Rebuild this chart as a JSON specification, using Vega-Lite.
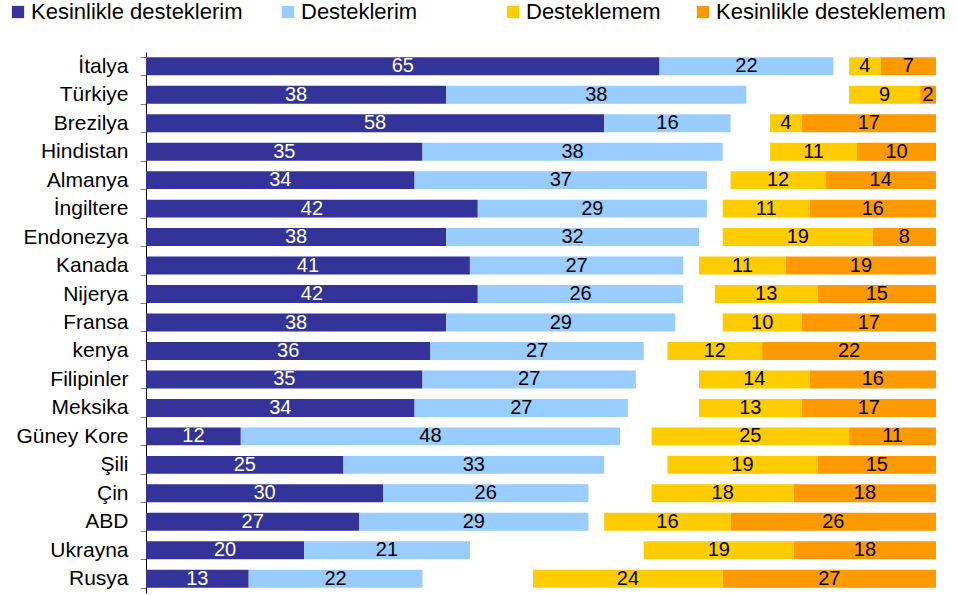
{
  "$schema": "https://vega.github.io/schema/vega-lite/v6.json",
  "width": 790,
  "height": 541,
  "autosize": {"type": "none"},
  "padding": {"left": 146, "top": 52, "right": 22, "bottom": 2},
  "background": "white",
  "config": {"view": {"stroke": null}, "font": "Liberation Sans", "text": {"font": "Liberation Sans"}},
  "data": {"values": [
    {"country": "İtalya", "cat": "Kesinlikle desteklerim", "value": 65},
    {"country": "İtalya", "cat": "Desteklerim", "value": 22},
    {"country": "İtalya", "cat": "Desteklemem", "value": 4},
    {"country": "İtalya", "cat": "Kesinlikle desteklemem", "value": 7},
    {"country": "Türkiye", "cat": "Kesinlikle desteklerim", "value": 38},
    {"country": "Türkiye", "cat": "Desteklerim", "value": 38},
    {"country": "Türkiye", "cat": "Desteklemem", "value": 9},
    {"country": "Türkiye", "cat": "Kesinlikle desteklemem", "value": 2},
    {"country": "Brezilya", "cat": "Kesinlikle desteklerim", "value": 58},
    {"country": "Brezilya", "cat": "Desteklerim", "value": 16},
    {"country": "Brezilya", "cat": "Desteklemem", "value": 4},
    {"country": "Brezilya", "cat": "Kesinlikle desteklemem", "value": 17},
    {"country": "Hindistan", "cat": "Kesinlikle desteklerim", "value": 35},
    {"country": "Hindistan", "cat": "Desteklerim", "value": 38},
    {"country": "Hindistan", "cat": "Desteklemem", "value": 11},
    {"country": "Hindistan", "cat": "Kesinlikle desteklemem", "value": 10},
    {"country": "Almanya", "cat": "Kesinlikle desteklerim", "value": 34},
    {"country": "Almanya", "cat": "Desteklerim", "value": 37},
    {"country": "Almanya", "cat": "Desteklemem", "value": 12},
    {"country": "Almanya", "cat": "Kesinlikle desteklemem", "value": 14},
    {"country": "İngiltere", "cat": "Kesinlikle desteklerim", "value": 42},
    {"country": "İngiltere", "cat": "Desteklerim", "value": 29},
    {"country": "İngiltere", "cat": "Desteklemem", "value": 11},
    {"country": "İngiltere", "cat": "Kesinlikle desteklemem", "value": 16},
    {"country": "Endonezya", "cat": "Kesinlikle desteklerim", "value": 38},
    {"country": "Endonezya", "cat": "Desteklerim", "value": 32},
    {"country": "Endonezya", "cat": "Desteklemem", "value": 19},
    {"country": "Endonezya", "cat": "Kesinlikle desteklemem", "value": 8},
    {"country": "Kanada", "cat": "Kesinlikle desteklerim", "value": 41},
    {"country": "Kanada", "cat": "Desteklerim", "value": 27},
    {"country": "Kanada", "cat": "Desteklemem", "value": 11},
    {"country": "Kanada", "cat": "Kesinlikle desteklemem", "value": 19},
    {"country": "Nijerya", "cat": "Kesinlikle desteklerim", "value": 42},
    {"country": "Nijerya", "cat": "Desteklerim", "value": 26},
    {"country": "Nijerya", "cat": "Desteklemem", "value": 13},
    {"country": "Nijerya", "cat": "Kesinlikle desteklemem", "value": 15},
    {"country": "Fransa", "cat": "Kesinlikle desteklerim", "value": 38},
    {"country": "Fransa", "cat": "Desteklerim", "value": 29},
    {"country": "Fransa", "cat": "Desteklemem", "value": 10},
    {"country": "Fransa", "cat": "Kesinlikle desteklemem", "value": 17},
    {"country": "kenya", "cat": "Kesinlikle desteklerim", "value": 36},
    {"country": "kenya", "cat": "Desteklerim", "value": 27},
    {"country": "kenya", "cat": "Desteklemem", "value": 12},
    {"country": "kenya", "cat": "Kesinlikle desteklemem", "value": 22},
    {"country": "Filipinler", "cat": "Kesinlikle desteklerim", "value": 35},
    {"country": "Filipinler", "cat": "Desteklerim", "value": 27},
    {"country": "Filipinler", "cat": "Desteklemem", "value": 14},
    {"country": "Filipinler", "cat": "Kesinlikle desteklemem", "value": 16},
    {"country": "Meksika", "cat": "Kesinlikle desteklerim", "value": 34},
    {"country": "Meksika", "cat": "Desteklerim", "value": 27},
    {"country": "Meksika", "cat": "Desteklemem", "value": 13},
    {"country": "Meksika", "cat": "Kesinlikle desteklemem", "value": 17},
    {"country": "Güney Kore", "cat": "Kesinlikle desteklerim", "value": 12},
    {"country": "Güney Kore", "cat": "Desteklerim", "value": 48},
    {"country": "Güney Kore", "cat": "Desteklemem", "value": 25},
    {"country": "Güney Kore", "cat": "Kesinlikle desteklemem", "value": 11},
    {"country": "Şili", "cat": "Kesinlikle desteklerim", "value": 25},
    {"country": "Şili", "cat": "Desteklerim", "value": 33},
    {"country": "Şili", "cat": "Desteklemem", "value": 19},
    {"country": "Şili", "cat": "Kesinlikle desteklemem", "value": 15},
    {"country": "Çin", "cat": "Kesinlikle desteklerim", "value": 30},
    {"country": "Çin", "cat": "Desteklerim", "value": 26},
    {"country": "Çin", "cat": "Desteklemem", "value": 18},
    {"country": "Çin", "cat": "Kesinlikle desteklemem", "value": 18},
    {"country": "ABD", "cat": "Kesinlikle desteklerim", "value": 27},
    {"country": "ABD", "cat": "Desteklerim", "value": 29},
    {"country": "ABD", "cat": "Desteklemem", "value": 16},
    {"country": "ABD", "cat": "Kesinlikle desteklemem", "value": 26},
    {"country": "Ukrayna", "cat": "Kesinlikle desteklerim", "value": 20},
    {"country": "Ukrayna", "cat": "Desteklerim", "value": 21},
    {"country": "Ukrayna", "cat": "Desteklemem", "value": 19},
    {"country": "Ukrayna", "cat": "Kesinlikle desteklemem", "value": 18},
    {"country": "Rusya", "cat": "Kesinlikle desteklerim", "value": 13},
    {"country": "Rusya", "cat": "Desteklerim", "value": 22},
    {"country": "Rusya", "cat": "Desteklemem", "value": 24},
    {"country": "Rusya", "cat": "Kesinlikle desteklemem", "value": 27}
  ]},
  "encoding": {
    "y": {
      "field": "country", "type": "nominal",
      "sort": ["İtalya","Türkiye","Brezilya","Hindistan","Almanya","İngiltere","Endonezya","Kanada","Nijerya","Fransa","kenya","Filipinler","Meksika","Güney Kore","Şili","Çin","ABD","Ukrayna","Rusya"],
      "scale": {"paddingInner": 0.37, "paddingOuter": 0.185},
      "axis": {"title": null, "labelFontSize": 21, "labelFont": "Liberation Sans", "labelColor": "black", "labelPadding": 12, "tickSize": 6, "tickColor": "#808080", "domainColor": "black", "domainWidth": 1, "tickBand": "extent"}
    }
  },
  "layer": [
    {
      "transform": [{"filter": {"field": "cat", "oneOf": ["Kesinlikle desteklerim", "Desteklerim"]}}],
      "encoding": {
        "x": {"field": "value", "type": "quantitative", "stack": "zero", "scale": {"domain": [0, 100]}, "axis": null},
        "order": {"field": "cat", "sort": "descending"}
      },
      "layer": [
        {
          "mark": {"type": "bar"},
          "encoding": {
            "color": {
              "field": "cat", "type": "nominal",
              "sort": ["Kesinlikle desteklerim", "Desteklerim"],
              "scale": {"domain": ["Kesinlikle desteklerim", "Desteklerim"], "range": ["#333399", "#99CCFF"]},
              "legend": {"orient": "none", "legendX": -139, "legendY": -51, "direction": "horizontal", "title": null, "labelFontSize": 22, "labelFont": "Liberation Sans", "labelColor": "black", "labelLimit": 400, "symbolType": "square", "symbolSize": 150, "symbolStrokeWidth": 0, "columnPadding": 34, "labelOffset": 2}
            }
          }
        },
        {
          "mark": {"type": "text", "fontSize": 20, "align": "center", "baseline": "middle"},
          "encoding": {
            "x": {"field": "value", "type": "quantitative", "stack": "zero", "bandPosition": 0.5},
            "detail": {"field": "cat"},
            "text": {"field": "value", "type": "quantitative"},
            "color": {"condition": {"test": "datum.cat === 'Kesinlikle desteklerim'", "value": "white"}, "value": "black"}
          }
        }
      ]
    },
    {
      "transform": [{"filter": {"field": "cat", "oneOf": ["Desteklemem", "Kesinlikle desteklemem"]}}],
      "encoding": {
        "x": {"field": "value", "type": "quantitative", "stack": "zero", "scale": {"domain": [0, 100], "reverse": true}, "axis": null},
        "order": {"field": "cat", "sort": "descending"}
      },
      "layer": [
        {
          "mark": {"type": "bar"},
          "encoding": {
            "color": {
              "field": "cat", "type": "nominal",
              "sort": ["Desteklemem", "Kesinlikle desteklemem"],
              "scale": {"domain": ["Desteklemem", "Kesinlikle desteklemem"], "range": ["#FFCC00", "#FF9900"]},
              "legend": {"orient": "none", "legendX": 356, "legendY": -51, "direction": "horizontal", "title": null, "labelFontSize": 22, "labelFont": "Liberation Sans", "labelColor": "black", "labelLimit": 400, "symbolType": "square", "symbolSize": 150, "symbolStrokeWidth": 0, "columnPadding": 31, "labelOffset": 2}
            }
          }
        },
        {
          "mark": {"type": "text", "fontSize": 20, "align": "center", "baseline": "middle", "color": "black"},
          "encoding": {
            "x": {"field": "value", "type": "quantitative", "stack": "zero", "bandPosition": 0.5},
            "detail": {"field": "cat"},
            "text": {"field": "value", "type": "quantitative"}
          }
        }
      ]
    }
  ],
  "resolve": {"scale": {"x": "independent", "color": "independent"}, "axis": {"x": "independent"}}
}
